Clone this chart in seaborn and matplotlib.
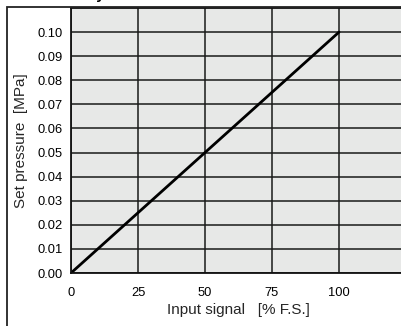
import matplotlib
matplotlib.use("Agg")
import matplotlib.pyplot as plt
import seaborn as sns
import pandas as pd
from matplotlib.patches import Rectangle

# Data
input_signal = [0, 100]           # % F.S.
set_pressure = [0.00, 0.10]       # MPa
x_ticks = [0, 25, 50, 75, 100]
y_ticks = [0.00, 0.01, 0.02, 0.03, 0.04, 0.05, 0.06, 0.07, 0.08, 0.09, 0.10]

sns.set_style("whitegrid", {
    "axes.facecolor": "#e7e8e7",
    "grid.color": "#1a1a1a",
    "axes.edgecolor": "#111111",
})
plt.rcParams['font.family'] = ['Liberation Sans', 'DejaVu Sans']

fig = plt.figure(figsize=(4.02, 3.26), dpi=100)
W, H = 402, 326
ax = fig.add_axes([71 / W, 1 - 273 / H, 335 / W, 265 / H])

df = pd.DataFrame({"x": input_signal, "y": set_pressure})
sns.lineplot(data=df, x="x", y="y", ax=ax, color="black", linewidth=2.0)

ax.set_xlim(0, 125)
ax.set_ylim(0, 0.11)
ax.set_xticks(x_ticks)
ax.set_yticks(y_ticks)
ax.set_xticklabels([str(v) for v in x_ticks])
ax.set_yticklabels([f"{v:.2f}" for v in y_ticks])
ax.grid(True, color="#1a1a1a", linewidth=1.1)
ax.tick_params(length=0, labelsize=9.3, colors="black", pad=6)
ax.tick_params(axis='x', pad=10)
for s in ax.spines.values():
    s.set_linewidth(1.3)
    s.set_color("#111111")

ax.set_xlabel("Input signal   [% F.S.]", fontsize=11, labelpad=3)
ax.set_ylabel("Set pressure  [MPa]", fontsize=11, labelpad=7)

# outer frame of the original chart (partially cropped)
frame = Rectangle((7 / W, -0.1), 1.2, 1 - 7 / H + 0.1, transform=fig.transFigure,
                  fill=False, edgecolor="#222222", linewidth=1.3, clip_on=False)
fig.patches.append(frame)

# cropped title (only the descender is visible)
fig.text(105 / W, 1 + 1.0 / H, "Linearity", ha="right", va="baseline",
         fontsize=11, fontweight="bold", color="black")

fig.savefig("out.png", dpi=100)
